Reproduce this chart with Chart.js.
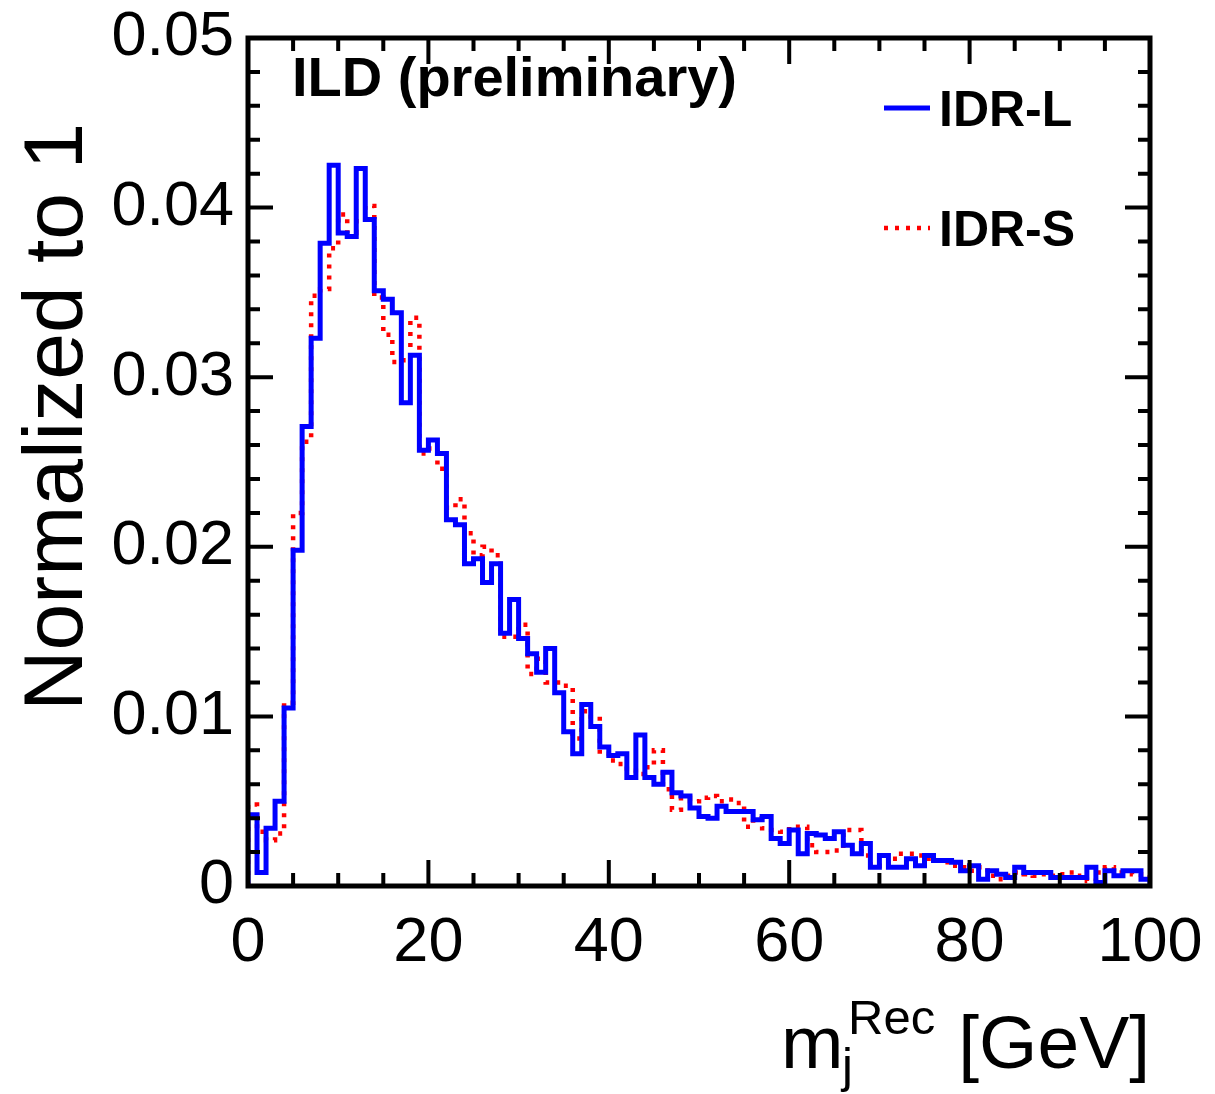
<!DOCTYPE html>
<html><head><meta charset="utf-8">
<script src="https://cdn.jsdelivr.net/npm/chart.js@4.4.1/dist/chart.umd.min.js"></script>
<style>html,body{margin:0;padding:0;background:#fff;overflow:hidden}</style>
</head><body>
<canvas id="c" width="1215" height="1094"></canvas>
<script>
// ---- data ----
const binStart = 0;
const binWidth = 1;
const seriesNames = ['IDR-L', 'IDR-S'];
const idrL = [
 0.0042,0.0008,0.0034,0.0050,0.0105,0.0198,0.0271,0.0323,0.0379,0.0425,
 0.0385,0.0383,0.0423,0.0393,0.0351,0.0346,0.0338,0.0285,0.0313,0.0257,
 0.0263,0.0255,0.0216,0.0213,0.0190,0.0193,0.0179,0.0190,0.0149,0.0169,
 0.0146,0.0137,0.0126,0.0140,0.0114,0.0091,0.0078,0.0107,0.0094,0.0082,
 0.0077,0.0078,0.0064,0.0089,0.0064,0.0060,0.0067,0.0055,0.0053,0.0046,
 0.0041,0.0040,0.0047,0.0044,0.0044,0.0044,0.0039,0.0041,0.0028,0.0025,
 0.0033,0.0019,0.0031,0.0030,0.0028,0.0032,0.0024,0.0019,0.0025,0.0011,
 0.0018,0.0011,0.0011,0.0016,0.0012,0.0018,0.0015,0.0015,0.0014,0.0009,
 0.0012,0.0004,0.0009,0.0007,0.0005,0.0011,0.0008,0.0008,0.0008,0.0005,
 0.0005,0.0005,0.0005,0.0011,0.0002,0.0009,0.0006,0.0009,0.0009,0.0004];
const idrS = [
 0.0048,0.0032,0.0027,0.0031,0.0108,0.0220,0.0262,0.0348,0.0352,0.0376,
 0.0396,0.0385,0.0392,0.0401,0.0347,0.0325,0.0309,0.0310,0.0335,0.0255,
 0.0258,0.0246,0.0223,0.0228,0.0208,0.0195,0.0200,0.0195,0.0147,0.0147,
 0.0154,0.0125,0.0134,0.0120,0.0120,0.0118,0.0087,0.0103,0.0100,0.0078,
 0.0074,0.0072,0.0068,0.0066,0.0070,0.0080,0.0057,0.0045,0.0052,0.0050,
 0.0052,0.0053,0.0050,0.0051,0.0049,0.0035,0.0040,0.0034,0.0033,0.0032,
 0.0035,0.0035,0.0024,0.0020,0.0020,0.0021,0.0033,0.0033,0.0018,0.0012,
 0.0012,0.0016,0.0019,0.0019,0.0018,0.0016,0.0015,0.0014,0.0012,0.0011,
 0.0009,0.0011,0.0006,0.0004,0.0006,0.0008,0.0007,0.0006,0.0007,0.0006,
 0.0007,0.0008,0.0006,0.0003,0.0008,0.0011,0.0008,0.0008,0.0007,0.0005];
const xTickValues = [0, 20, 40, 60, 80, 100];
const yTickValues = [0, 0.01, 0.02, 0.03, 0.04, 0.05];
const xMinorStep = 5;
const yMinorStep = 0.002;
const yTitle = 'Normalized to 1';
const plotLabel = 'ILD (preliminary)';

// ---- helpers ----
const FONT = "'Liberation Sans', Arial, Helvetica, sans-serif";
function histPoints(vals) {
  const pts = [{x: binStart, y: 0}];
  vals.forEach((v, i) => pts.push({x: binStart + i * binWidth, y: v}));
  const end = binStart + vals.length * binWidth;
  pts.push({x: end, y: vals[vals.length - 1]});
  pts.push({x: end, y: 0});
  return pts;
}

const framePlugin = {
  id: 'rootFrame',
  afterDatasetsDraw(chart) {
    const {ctx, chartArea: a, scales: {x, y}} = chart;
    ctx.save();
    ctx.strokeStyle = '#000';
    ctx.lineWidth = 4;
    ctx.beginPath();
    for (let v = x.min; v <= x.max + 1e-9; v += xMinorStep) {
      const px = x.getPixelForValue(v);
      const major = xTickValues.some(t => Math.abs(t - v) < 1e-9);
      const len = major ? 26 : 13;
      ctx.moveTo(px, a.bottom); ctx.lineTo(px, a.bottom - len);
      ctx.moveTo(px, a.top); ctx.lineTo(px, a.top + len);
    }
    for (let v = y.min; v <= y.max + 1e-9; v += yMinorStep) {
      const py = y.getPixelForValue(v);
      const major = yTickValues.some(t => Math.abs(t - v) < 1e-9);
      const len = major ? 25 : 12;
      ctx.moveTo(a.left, py); ctx.lineTo(a.left + len, py);
      ctx.moveTo(a.right, py); ctx.lineTo(a.right - len, py);
    }
    ctx.stroke();
    ctx.lineWidth = 5;
    ctx.strokeRect(a.left, a.top, a.right - a.left, a.bottom - a.top);

    ctx.fillStyle = '#000';
    ctx.textBaseline = 'alphabetic';
    ctx.textAlign = 'left';
    ctx.font = 'bold 56px ' + FONT;
    ctx.fillText(plotLabel, 292, 96);

    const ds = chart.data.datasets;
    const legY = [108, 228];
    ds.forEach((d, i) => {
      ctx.save();
      ctx.strokeStyle = d.borderColor;
      ctx.lineWidth = d.borderWidth;
      ctx.setLineDash(d.borderDash || []);
      ctx.beginPath();
      ctx.moveTo(884, legY[i]); ctx.lineTo(930, legY[i]);
      ctx.stroke();
      ctx.restore();
      ctx.font = 'bold 50px ' + FONT;
      ctx.fillText(d.label, 939, legY[i] + 18);
    });

    ctx.save();
    ctx.translate(82, 417);
    ctx.rotate(-Math.PI / 2);
    ctx.textAlign = 'center';
    ctx.font = '84px ' + FONT;
    ctx.fillText(yTitle, 0, 0);
    ctx.restore();

    ctx.textAlign = 'left';
    ctx.font = '75px ' + FONT;
    ctx.fillText('m', 781, 1068);
    ctx.font = '49px ' + FONT;
    ctx.fillText('j', 842, 1082);
    ctx.fillText('Rec', 848, 1034);
    ctx.font = '75px ' + FONT;
    ctx.textAlign = 'right';
    ctx.fillText('[GeV]', 1150, 1068);
    ctx.restore();
  }
};

new Chart(document.getElementById('c'), {
  type: 'line',
  data: {
    datasets: [
      { label: seriesNames[0], data: histPoints(idrL), stepped: 'before',
        borderColor: '#0000ff', borderWidth: 5, pointRadius: 0, fill: false },
      { label: seriesNames[1], data: histPoints(idrS), stepped: 'before',
        borderColor: '#ff0000', borderWidth: 4.5, borderDash: [4, 7], pointRadius: 0, fill: false }
    ]
  },
  options: {
    responsive: false,
    animation: false,
    devicePixelRatio: 1,
    layout: { padding: { top: 38, right: 65, left: 0, bottom: 0 } },
    plugins: { legend: { display: false }, tooltip: { enabled: false } },
    scales: {
      x: {
        type: 'linear', min: 0, max: 100,
        afterBuildTicks(s) { s.ticks = xTickValues.map(v => ({value: v})); },
        afterFit(s) { s.height = 1094 - 886; s.paddingLeft = 0; s.paddingRight = 0; },
        grid: { display: false }, border: { display: false },
        ticks: { color: '#000', font: { family: FONT, size: 63 }, padding: 12, maxRotation: 0,
                 callback: v => String(v) }
      },
      y: {
        type: 'linear', min: 0, max: 0.05,
        afterBuildTicks(s) { s.ticks = yTickValues.map(v => ({value: v})); },
        afterFit(s) { s.width = 248; s.paddingTop = 0; s.paddingBottom = 0; },
        grid: { display: false }, border: { display: false },
        ticks: { color: '#000', font: { family: FONT, size: 63 }, padding: 6,
                 callback: v => v === 0 ? '0' : v.toFixed(2) }
      }
    }
  },
  plugins: [framePlugin]
});
</script>
</body></html>
